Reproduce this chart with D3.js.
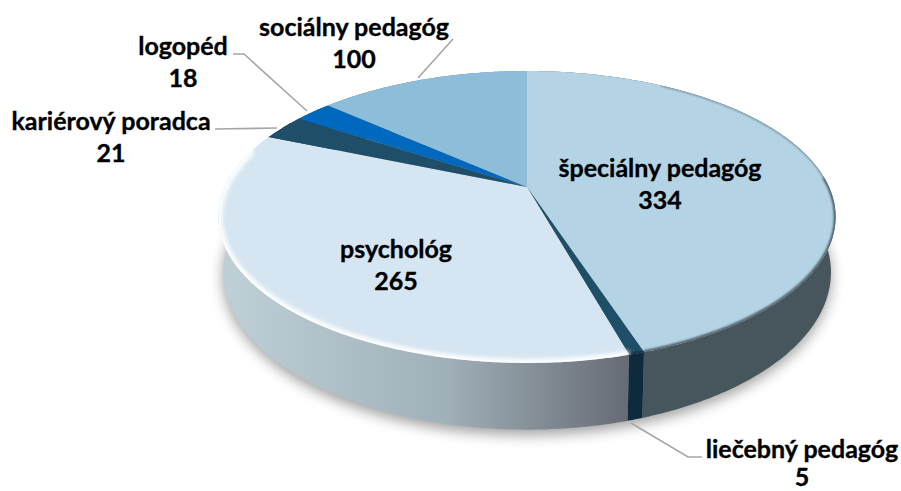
<!DOCTYPE html>
<html><head><meta charset="utf-8">
<script src="https://cdn.jsdelivr.net/npm/d3@7"></script>
<style>html,body{margin:0;background:#fff;overflow:hidden}svg{display:block}
text{font-family:Lato,"Open Sans",sans-serif;font-weight:700;font-size:25px;fill:#000;stroke:#000;stroke-width:.35px;text-anchor:middle}</style>
</head><body><svg id="c" width="901" height="491"></svg>
<script>
const categories = ["špeciálny pedagóg","liečebný pedagóg","psychológ","kariérový poradca","logopéd","sociálny pedagóg"];
const values = [334,5,265,21,18,100];
const faceColors = ["#b4d4e6","#1f4e68","#d5e5f1","#1f4e68","#0069bd","#8ebdd9"];
const sideStart = ["#47565c","#0e2b3d","#bfd0d7","#0e2b3d","#003c6c","#5d7c8e"];
const sideEnd   = ["#4a5a61","#0e2b3d","#656a73","#0e2b3d","#003c6c","#5d7c8e"];
const labelCentres = [[660,177],[802,458],[396,258],[111,130],[183,55],[354,36]];
const labelGaps = [31.5,28,31.5,31.5,31.5,31.5];
const leaders = [null,[[631,423],[688,457],[702,457]],null,[[277,128],[215,129]],[[307,111],[244,54],[233,54]],[[418,78],[453,39]]];

const cx=527,cy=187,A=302,B=139.8,K=0.2054,DEPTH=53,TAPER=0.985;
const svg=d3.select("#c");
const defs=svg.append("defs");
const proj=(th,r=1,dz=0)=>{const x=r*Math.sin(th),y=-r*Math.cos(th),w=1/(1-K*y);
  return [cx+A*x*w*(dz>0?TAPER:1),cy+B*y*w+dz*w];};
const arcPts=(a0,a1,r=1,dz=0)=>{const n=Math.max(2,Math.ceil((a1-a0)/0.01));return d3.range(n+1).map(i=>proj(a0+(a1-a0)*i/n,r,dz));};
const line=d3.line();
const arcs=d3.pie().sort(null).value(d=>d)(values);

const blur=(id,s,m)=>defs.append("filter").attr("id",id).attr("x",-m).attr("y",-m).attr("width",1+2*m).attr("height",1+2*m)
  .append("feGaussianBlur").attr("stdDeviation",s);
blur("sh",7,.2);blur("b2",2,.2);blur("b1",1,.1);
defs.append("clipPath").attr("id","disc").append("path").attr("d",line(arcPts(0,2*Math.PI))+"Z");

arcs.forEach((a,i)=>{
  const xs=[proj(a.startAngle)[0],proj(a.endAngle)[0]];
  const g=defs.append("linearGradient").attr("id","side"+i).attr("gradientUnits","userSpaceOnUse")
    .attr("x1",i===2?220:d3.min(xs)).attr("x2",i===2?632:d3.max(xs)).attr("y1",0).attr("y2",0);
  g.append("stop").attr("offset",0).attr("stop-color",i===0?sideEnd[i]:sideStart[i]);
  if(i===2) g.append("stop").attr("offset",0.55).attr("stop-color","#a0b0b8");
  g.append("stop").attr("offset",1).attr("stop-color",i===0?sideStart[i]:sideEnd[i]);
});

svg.append("path").attr("d",line(arcPts(0,2*Math.PI,1.0,DEPTH+4))+"Z").attr("fill","#000").attr("opacity",0.38).attr("filter","url(#sh)");

const order=arcs.map((a,i)=>i).sort((p,q)=>-Math.cos((arcs[p].startAngle+arcs[p].endAngle)/2)+Math.cos((arcs[q].startAngle+arcs[q].endAngle)/2));
svg.append("g").selectAll("path").data(order).join("path")
  .attr("d",i=>{const a=arcs[i];return line(arcPts(a.startAngle,a.endAngle).concat(arcPts(a.startAngle,a.endAngle,1,DEPTH).reverse()))+"Z";})
  .attr("fill",i=>`url(#side${i})`);

svg.append("g").selectAll("path").data(arcs).join("path")
  .attr("d",a=>line([[cx,cy]].concat(arcPts(a.startAngle,a.endAngle)))+"Z")
  .attr("fill",(a,i)=>faceColors[i]);

// bevel inside the rim: dark, soft on the right; bright on the left
const bevel=svg.append("g").attr("clip-path","url(#disc)");
const rimStroke=(a0,a1,col,sw,f,op)=>bevel.append("path").attr("d",line(arcPts(a0,a1,1,0))).attr("fill","none")
  .attr("stroke",col).attr("stroke-width",sw).attr("filter",`url(#${f})`).attr("opacity",op);
rimStroke(arcs[0].startAngle+0.55,arcs[0].endAngle,"#4a5a61",1.5,"b1",.75);
rimStroke(arcs[0].startAngle+1.5,arcs[0].endAngle,"#4a5a61",3.5,"b1",.9);
rimStroke(arcs[1].startAngle,arcs[1].endAngle,"#0e2b3d",3.5,"b1",.9);
rimStroke(arcs[2].startAngle,arcs[2].endAngle-0.12,"#ffffff",8,"b2",1);
rimStroke(arcs[2].endAngle-0.6,arcs[2].endAngle-0.1,"#f2fbff",3,"b1",.8);

svg.append("g").selectAll("path").data(leaders.filter(Boolean)).join("path")
  .attr("d",d=>line(d)).attr("fill","none").attr("stroke","#a6a6a6").attr("stroke-width",1.6);

const lab=svg.append("g").selectAll("text").data(arcs).join("text")
  .attr("transform",(a,i)=>`translate(${labelCentres[i][0]},${labelCentres[i][1]})`);
lab.append("tspan").attr("x",0).attr("dy",0).text((a,i)=>categories[i]);
lab.append("tspan").attr("x",0).attr("dy",(a,i)=>labelGaps[i]).text(a=>a.value);
</script></body></html>
